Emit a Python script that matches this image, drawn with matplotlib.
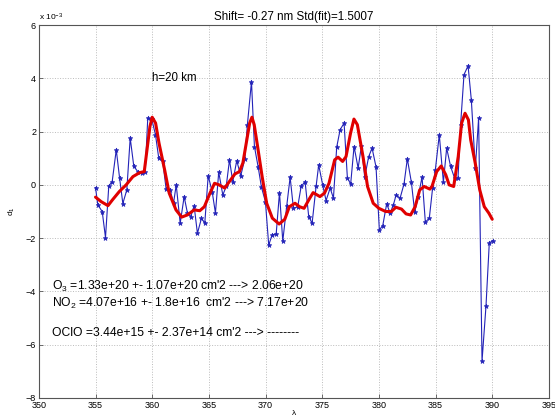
import numpy as np
import matplotlib
matplotlib.use("Agg")
import matplotlib.pyplot as plt

plt.rcParams['font.family'] = ['Liberation Sans', 'DejaVu Sans']
plt.rcParams['mathtext.fontset'] = 'custom'
plt.rcParams['mathtext.rm'] = 'Liberation Sans'
plt.rcParams['mathtext.it'] = 'Liberation Sans:italic'

# measured spectrum (d1, units of 1e-3)
wl = [355.00, 355.20, 355.59, 355.88, 356.17, 356.47, 356.83, 357.12, 357.41, 357.76,
      358.06, 358.38, 358.73, 359.08, 359.38, 359.61, 359.96, 360.29, 360.58, 360.93,
      361.23, 361.59, 361.88, 362.12, 362.47, 362.82, 363.11, 363.40, 363.70, 363.99,
      364.35, 364.64, 364.94, 365.29, 365.58, 365.87, 366.23, 366.53, 366.82, 367.11,
      367.46, 367.81, 368.17, 368.40, 368.76, 369.02, 369.35, 369.64, 369.99, 370.28,
      370.58, 370.94, 371.23, 371.52, 371.87, 372.17, 372.46, 372.84, 373.14, 373.49,
      373.81, 374.11, 374.46, 374.69, 375.04, 375.34, 375.70, 375.99, 376.28, 376.58,
      376.93, 377.22, 377.51, 377.81, 378.17, 378.46, 378.75, 379.10, 379.40, 379.75,
      380.04, 380.34, 380.69, 380.99, 381.28, 381.52, 381.87, 382.22, 382.51, 382.87,
      383.16, 383.46, 383.81, 384.10, 384.45, 384.74, 384.98, 385.33, 385.69, 385.98,
      386.33, 386.68, 386.98, 387.21, 387.51, 387.87, 388.16, 388.51, 388.80, 389.10,
      389.45, 389.74, 390.04]
d1 = [-0.10, -0.75, -1.00, -1.98, -0.04, 0.12, 1.32, 0.27, -0.70, -0.19,
      1.76, 0.69, 0.50, 0.46, 0.49, 2.51, 2.47, 1.88, 1.00, 0.88,
      -0.16, -0.19, -0.69, 0.00, -1.44, -0.44, -1.06, -1.19, -0.79, -1.82,
      -1.25, -1.44, 0.34, -0.25, -1.06, 0.48, -0.38, -0.06, 0.94, 0.12,
      0.91, 0.34, 0.97, 2.26, 3.88, 1.44, 0.67, -0.09, -0.63, -2.26,
      -1.88, -1.84, -0.29, -2.11, -0.79, 0.29, -0.88, -0.82, -0.06, 0.12,
      -1.19, -1.44, -0.06, 0.75, 0.00, -0.59, -0.12, -0.50, 1.42, 2.07,
      2.32, 0.27, 0.03, 1.44, 0.63, 1.47, 0.29, 1.06, 1.38, 0.67,
      -1.69, -1.53, -0.71, -1.06, -0.75, -0.38, -0.50, 0.04, 0.98, 0.09,
      -1.03, -0.44, 0.29, -1.40, -1.25, -0.12, 0.56, 1.88, 0.10, 1.38,
      0.69, 0.25, 0.25, 2.26, 4.14, 4.47, 3.17, 0.63, 2.51, -6.62,
      -4.55, -2.19, -2.09]

# fitted curve
wl_fit = [355.0, 355.5, 356.1, 356.5, 357.1, 357.7, 358.3, 358.9, 359.3, 359.8,
          360.0, 360.3, 360.6, 361.1, 361.5, 362.1, 362.6, 363.1, 363.7, 364.2,
          364.6, 365.1, 365.5, 365.9, 366.4, 366.8, 367.3, 367.7, 368.0, 368.3,
          368.6, 368.8, 369.0, 369.3, 369.7, 370.1, 370.6, 371.2, 371.7, 372.1,
          372.6, 373.0, 373.4, 373.9, 374.2, 374.8, 375.2, 375.6, 376.1, 376.4,
          376.8, 377.1, 377.5, 377.8, 378.1, 378.6, 379.0, 379.5, 380.0, 380.6,
          381.1, 381.5, 382.0, 382.4, 382.8, 383.2, 383.6, 384.0, 384.5, 384.7,
          385.1, 385.5, 385.9, 386.2, 386.6, 387.0, 387.3, 387.6, 387.9, 388.1,
          388.5, 388.9, 389.3, 389.7, 390.0]
d1_fit = [-0.46, -0.63, -0.78, -0.56, -0.25, 0.00, 0.31, 0.46, 0.50, 2.19,
          2.54, 2.32, 1.57, 0.56, -0.31, -0.94, -1.21, -1.13, -0.94, -0.97,
          -0.82, -0.31, 0.06, 0.00, -0.12, 0.12, 0.41, 0.50, 0.82, 1.57,
          2.32, 2.54, 2.26, 1.44, 0.31, -0.69, -1.25, -1.47, -1.29, -0.82,
          -0.69, -0.82, -0.88, -0.50, -0.29, -0.44, -0.31, 0.06, 0.94, 1.04,
          0.88, 1.06, 1.94, 2.47, 2.26, 1.06, -0.06, -0.69, -0.88, -1.00,
          -1.00, -0.84, -0.91, -1.09, -1.13, -0.82, -0.19, -0.06, -0.16, -0.04,
          0.50, 0.71, 0.38, 0.00, -0.06, 1.06, 2.32, 2.69, 2.44, 1.69,
          0.82, -0.19, -0.82, -1.06, -1.29]

xticks = [350, 355, 360, 365, 370, 375, 380, 385, 390, 395]
yticks = [-8, -6, -4, -2, 0, 2, 4, 6]

fig = plt.figure(figsize=(5.55, 4.18), dpi=100)
ax = fig.add_axes([0.070, 0.048, 0.919, 0.892])

ax.plot(wl, d1, '-', color='#2323b8', lw=0.8, marker='*', ms=3.5, mew=0.5)
ax.plot(wl_fit, d1_fit, '-', color='#e00000', lw=2.2, solid_capstyle='round')

ax.set_xlim(350, 395)
ax.set_ylim(-8, 6)
ax.set_xticks(xticks)
ax.set_yticks(yticks)
ax.tick_params(direction='in', labelsize=6.5, length=3, width=0.6,
               color='#555555', pad=2)
ax.grid(True, linestyle=':', color='#bbbbbb', lw=0.7)
for s in ax.spines.values():
    s.set_color('#555555')
    s.set_linewidth(0.8)

ax.set_title('Shift= -0.27 nm Std(fit)=1.5007', fontsize=8.4, pad=4)
ax.set_xlabel('λ', fontsize=6, labelpad=0)
ax.set_ylabel('d$_1$', fontsize=6, labelpad=6)
ax.text(0.0, 1.005, 'x 10$^{-3}$', transform=ax.transAxes, fontsize=6,
        va='bottom', ha='left')

ax.text(360.0, 4.0, 'h=20 km', fontsize=8.3, va='center')
ax.text(351.2, -3.83, "O$_3$ =1.33e+20 +- 1.07e+20 cm'2 ---> 2.06e+20",
        fontsize=8.7, va='center')
ax.text(351.2, -4.44, "NO$_2$ =4.07e+16 +- 1.8e+16  cm'2 ---> 7.17e+20",
        fontsize=8.7, va='center')
ax.text(351.2, -5.56, "OClO =3.44e+15 +- 2.37e+14 cm'2 ---> --------",
        fontsize=8.7, va='center')

fig.savefig('out.png', dpi=100)
